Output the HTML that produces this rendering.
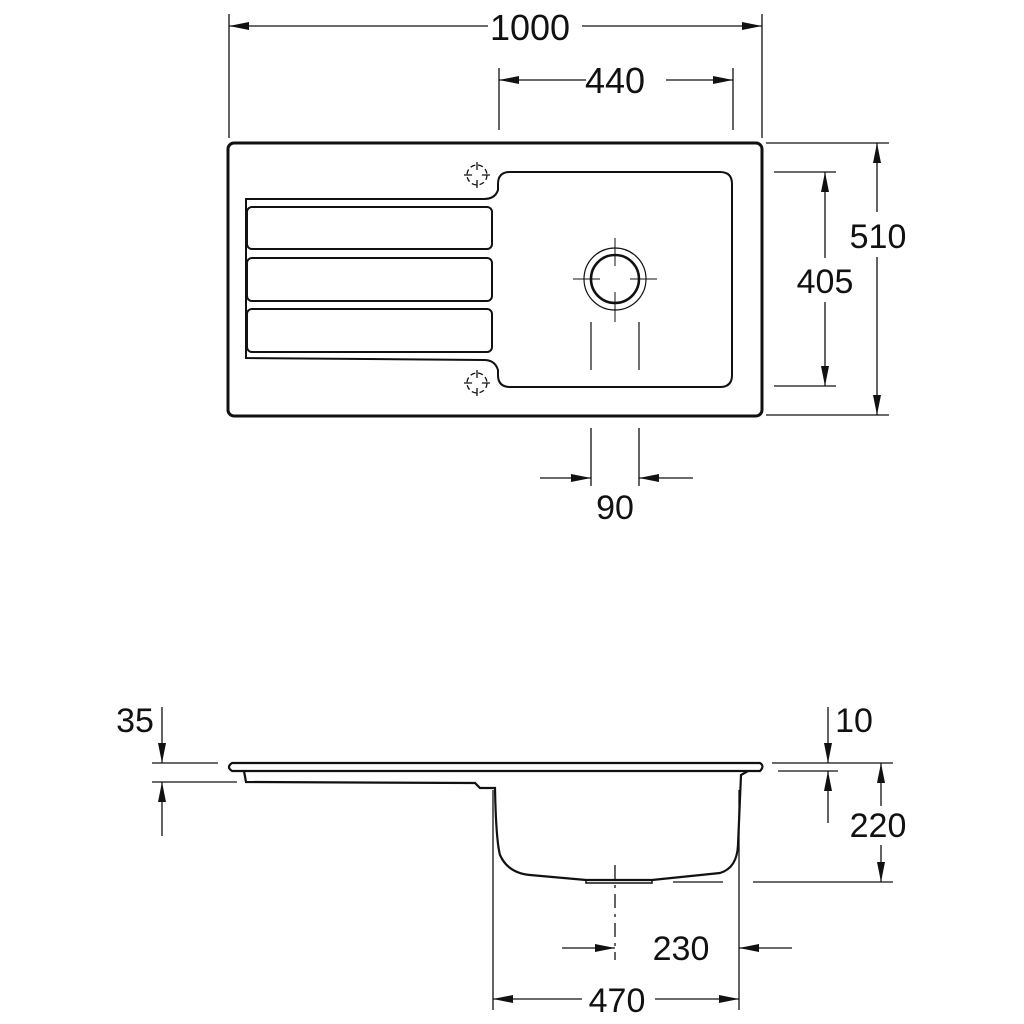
<!DOCTYPE html>
<html><head><style>
html,body{margin:0;padding:0;background:#fff;}
svg{display:block;}
text{font-family:"Liberation Sans",sans-serif;font-size:34px;fill:#111;text-anchor:middle;}
</style></head><body>
<svg width="1024" height="1024" viewBox="0 0 1024 1024" xmlns="http://www.w3.org/2000/svg">
<defs>
<marker id="a" viewBox="0 0 20 8" refX="20" refY="4" markerWidth="20" markerHeight="8" markerUnits="userSpaceOnUse" orient="auto-start-reverse"><path d="M0,0 L20,4 L0,8 Z" fill="#111"/></marker>
</defs>
<g stroke="#111" fill="none" stroke-width="1.3">
<line x1="229" y1="14" x2="229" y2="138"/><line x1="762" y1="14" x2="762" y2="138"/>
<line x1="229" y1="26" x2="488" y2="26" marker-start="url(#a)"/><line x1="582" y1="26" x2="762" y2="26" marker-end="url(#a)"/>
<line x1="499" y1="68" x2="499" y2="130"/><line x1="733" y1="68" x2="733" y2="130"/>
<line x1="499" y1="80" x2="586" y2="80" marker-start="url(#a)"/><line x1="666" y1="80" x2="733" y2="80" marker-end="url(#a)"/>
<line x1="766" y1="143" x2="889" y2="143"/><line x1="766" y1="415" x2="889" y2="415"/>
<line x1="877" y1="143" x2="877" y2="212" marker-start="url(#a)"/><line x1="877" y1="257" x2="877" y2="415" marker-end="url(#a)"/>
<line x1="774" y1="172" x2="836" y2="172"/><line x1="774" y1="386" x2="836" y2="386"/>
<line x1="825" y1="172" x2="825" y2="258" marker-start="url(#a)"/><line x1="825" y1="302" x2="825" y2="386" marker-end="url(#a)"/>
<line x1="591" y1="428" x2="591" y2="486"/><line x1="639" y1="428" x2="639" y2="486"/>
<line x1="540" y1="478" x2="591" y2="478" marker-end="url(#a)"/><line x1="693" y1="478" x2="639" y2="478" marker-end="url(#a)"/>
</g>
<g stroke="#111" fill="none">
<rect x="228" y="143" width="534" height="273" rx="6" stroke-width="3"/>
<path d="M498,184 Q498,172 510,172 L720,172 Q732,172 732,184 L732,375 Q732,387 720,387 L510,387 Q498,387 498,375 L498,370 Q495,360 484,360 L246,358 L246,199 L484,199 Q495,199 498,190 Z" stroke-width="2"/>
<rect x="247" y="207" width="245" height="42" rx="5" stroke-width="2"/>
<rect x="247" y="258" width="245" height="43" rx="5" stroke-width="2"/>
<rect x="247" y="309" width="245" height="43" rx="5" stroke-width="2"/>
<circle cx="615" cy="279" r="31" stroke-width="1.2"/>
<circle cx="615" cy="279" r="24" stroke-width="2.6"/>
<line x1="573" y1="279" x2="600" y2="279" stroke-width="1"/><line x1="630" y1="279" x2="657" y2="279" stroke-width="1"/>
<line x1="615" y1="238" x2="615" y2="266" stroke-width="1"/><line x1="615" y1="292" x2="615" y2="322" stroke-width="1"/>
<line x1="591" y1="322" x2="591" y2="370" stroke-width="1.2"/><line x1="639" y1="322" x2="639" y2="370" stroke-width="1.2"/>
<circle cx="477" cy="175" r="10" stroke-width="1.3" stroke-dasharray="5 3"/>
<path d="M464,175h8M482,175h8M477,162v8M477,180v8" stroke-width="1.3"/>
<circle cx="477" cy="383" r="10" stroke-width="1.3" stroke-dasharray="5 3"/>
<path d="M464,383h8M482,383h8M477,370v8M477,388v8" stroke-width="1.3"/>
</g>
<g stroke="#111" fill="none" stroke-width="1.3">
<line x1="152" y1="763" x2="218" y2="763"/><line x1="152" y1="782" x2="237" y2="782"/>
<line x1="162" y1="707" x2="162" y2="763" marker-end="url(#a)"/><line x1="162" y1="836" x2="162" y2="782" marker-end="url(#a)"/>
<line x1="772" y1="763" x2="893" y2="763"/><line x1="778" y1="771" x2="838" y2="771"/>
<line x1="828" y1="707" x2="828" y2="763" marker-end="url(#a)"/><line x1="828" y1="823" x2="828" y2="771" marker-end="url(#a)"/>
<line x1="881" y1="806" x2="881" y2="763" marker-end="url(#a)"/><line x1="881" y1="845" x2="881" y2="882" marker-end="url(#a)"/>
<line x1="753" y1="882" x2="893" y2="882"/><line x1="673" y1="882" x2="723" y2="882"/>
<line x1="493" y1="790" x2="493" y2="1010"/><line x1="739" y1="790" x2="739" y2="1010"/>
<line x1="615" y1="865" x2="615" y2="960" stroke-dasharray="14 6 3 6"/>
<line x1="562" y1="948" x2="615" y2="948" marker-end="url(#a)"/><line x1="792" y1="948" x2="739" y2="948" marker-end="url(#a)"/>
<line x1="493" y1="999" x2="582" y2="999" marker-start="url(#a)"/><line x1="655" y1="999" x2="739" y2="999" marker-end="url(#a)"/>
</g>
<g stroke="#111" fill="none" stroke-width="2.2">
<path d="M232,763 L760,763 Q765,766 760,771 L232,771 Q226,767 232,763 Z"/>
<path d="M244,771 L246,782 L475,783 L480,788 L495,788 Q496,840 500,855 Q508,873 530,875 L586,880 L652,880 L720,873 Q737,868 738,845 L741,775 L748,771"/>
<path d="M586,880 L586,883 L652,883 L652,880" stroke-width="1.5"/>
</g>
<g>
<text x="530" y="40" style="font-size:36px">1000</text>
<text x="615" y="93" style="font-size:36px">440</text>
<rect x="848" y="218" width="60" height="36" fill="#fff"/>
<text x="878" y="248">510</text>
<text x="825" y="293">405</text>
<text x="615" y="519">90</text>
<text x="135" y="732">35</text>
<text x="854" y="732">10</text>
<text x="878" y="837">220</text>
<text x="681" y="960">230</text>
<text x="617" y="1012">470</text>
</g>
</svg>
</body></html>
